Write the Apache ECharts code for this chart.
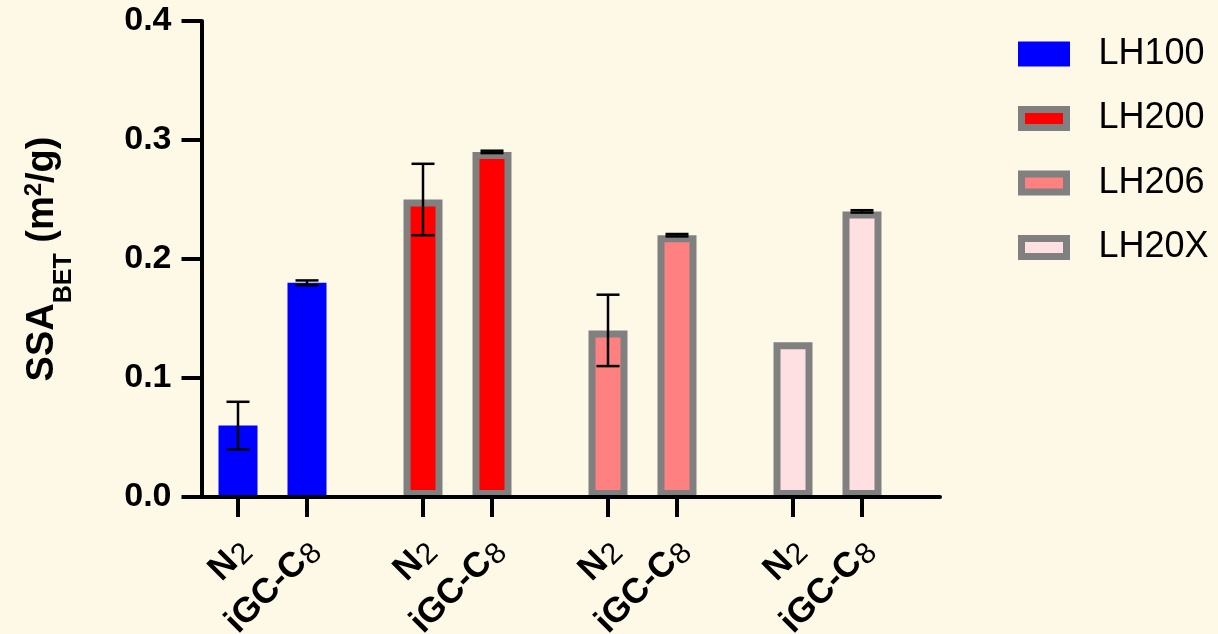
<!DOCTYPE html>
<html><head><meta charset="utf-8">
<script src="https://cdn.jsdelivr.net/npm/echarts@6/dist/echarts.min.js"></script>
<style>html,body{margin:0;padding:0;background:#FEF8E6;}#c{width:1218px;height:634px;}</style>
</head><body><div id="c"></div>
<script>
// ---- data ----
const groups = ['LH100', 'LH200', 'LH206', 'LH20X'];
const methods = ['N2', 'iGC-C8'];
const n2Values = [0.06, 0.25, 0.14, 0.13];
const n2Errors = [0.02, 0.03, 0.03, 0];
const igcValues = [0.18, 0.29, 0.22, 0.24];
const igcErrors = [0.002, 0.001, 0.001, 0.001];
const yTicks = [0.0, 0.1, 0.2, 0.3, 0.4];

// ---- styles ----
const fillColors = ['#0000FF', '#FF0000', '#FF8080', '#FFE0E2'];
const borderColors = ['#0000FF', '#808080', '#808080', '#808080'];
const FONT = 'Liberation Sans';
const BAR_W = 39, BORDER = 7, PITCH = 69;

const methodValues = [n2Values, igcValues];
const methodErrors = [n2Errors, igcErrors];

const barSeries = [];
groups.forEach((g, gi) => {
  methodValues.forEach((vals, mi) => {
    barSeries.push({
      type: 'bar', name: g, xAxisIndex: 1, yAxisIndex: 1,
      stack: 'm' + mi,
      barWidth: BAR_W,
      barGap: ((PITCH - BAR_W) / BAR_W * 100).toFixed(1) + '%',
      data: groups.map((_, k) => (k === gi ? vals[k] : '-')),
      itemStyle: { color: fillColors[gi], borderColor: borderColors[gi], borderWidth: BORDER },
      silent: true
    });
  });
});

const markerData = [];
groups.forEach((g, gi) => {
  methods.forEach((m, mi) => {
    markerData.push([gi, mi, methodValues[mi][gi], methodErrors[mi][gi]]);
  });
});

function richLabel(m) {
  const mm = m.match(/^(.*?)(\d)$/);
  return mm ? '{b|' + mm[1] + '}{s|' + mm[2] + '}' : '{b|' + m + '}';
}

function renderItem(params, api) {
  const gi = api.value(0), slot = api.value(1), v = api.value(2), e = api.value(3);
  const base = api.coord([gi, 0]);
  const cx = base[0] + (slot - 0.5) * PITCH;
  const axisY = base[1];
  const children = [];
  children.push({ type: 'line', shape: { x1: cx, y1: axisY, x2: cx, y2: axisY + 20 },
    style: { stroke: '#000', lineWidth: 4 } });
  if (e > 0) {
    const yHi = api.coord([gi, v + e])[1];
    const yLo = api.coord([gi, v - e])[1];
    children.push({ type: 'line', shape: { x1: cx, y1: yHi, x2: cx, y2: yLo },
      style: { stroke: '#000', lineWidth: 2.5 } });
    children.push({ type: 'line', shape: { x1: cx - 11.5, y1: yHi, x2: cx + 11.5, y2: yHi },
      style: { stroke: '#000', lineWidth: 2.5 } });
    children.push({ type: 'line', shape: { x1: cx - 11.5, y1: yLo, x2: cx + 11.5, y2: yLo },
      style: { stroke: '#000', lineWidth: 2.5 } });
  }
  children.push({
    type: 'text', x: cx + 7, y: axisY + 48, rotation: Math.PI / 4,
    style: {
      text: richLabel(methods[slot]), align: 'right', verticalAlign: 'middle', fill: '#000',
      rich: {
        b: { fontSize: 35, fontWeight: 'bold', fontFamily: FONT, lineHeight: 39, fill: '#000' },
        s: { fontSize: 30, fontWeight: 'normal', fontFamily: FONT, lineHeight: 30, fill: '#000', padding: [10, 0, 0, 1] }
      }
    }
  });
  return { type: 'group', children };
}

const chart = echarts.init(document.getElementById('c'), null, { renderer: 'canvas' });
chart.setOption({
  animation: false,
  backgroundColor: '#FEF8E6',
  grid: [
    { left: 192, right: 278, top: 21, bottom: 137 },
    { left: 180, width: 740, top: 21, bottom: 137 }
  ],
  xAxis: [
    { gridIndex: 0, type: 'value', min: 0, max: 1, z: 10,
      axisLine: { show: true, lineStyle: { color: '#000', width: 4 } },
      axisTick: { show: false }, axisLabel: { show: false }, splitLine: { show: false } },
    { gridIndex: 1, type: 'category', data: groups, show: false }
  ],
  yAxis: [
    { gridIndex: 0, type: 'value', min: yTicks[0], max: yTicks[yTicks.length - 1],
      interval: yTicks[1] - yTicks[0], z: 10,
      axisLine: { show: true, lineStyle: { color: '#000', width: 4 } },
      axisTick: { show: true, length: 20, lineStyle: { color: '#000', width: 4 } },
      axisLabel: { margin: 30, color: '#000', fontSize: 34, fontWeight: 'bold', fontFamily: FONT,
        formatter: v => v.toFixed(1) },
      splitLine: { show: false },
      name: '{a|SSA}{sub|BET}{a| (m}{sup|2}{a|/g)}',
      nameLocation: 'middle', nameRotate: 90, nameGap: 136,
      nameTextStyle: {
        color: '#000',
        rich: {
          a: { fontSize: 38, fontWeight: 'bold', fontFamily: FONT, lineHeight: 46, color: '#000' },
          sub: { fontSize: 25, fontWeight: 'bold', fontFamily: FONT, lineHeight: 25, color: '#000', padding: [44, 0, 0, 0] },
          sup: { fontSize: 24, fontWeight: 'bold', fontFamily: FONT, lineHeight: 24, color: '#000', padding: [0, 0, 16, 0] }
        }
      } },
    { gridIndex: 1, type: 'value', min: yTicks[0], max: yTicks[yTicks.length - 1], show: false }
  ],
  legend: {
    orient: 'vertical', left: 1013, top: 29, itemWidth: 45, itemHeight: 18, itemGap: 24.5,
    selectedMode: false,
    textStyle: { fontSize: 36, fontFamily: FONT, color: '#000', lineHeight: 40, padding: [0, 0, 0, 27] },
    data: groups.map((g, i) => ({ name: g, icon: 'rect',
      itemStyle: { color: fillColors[i], borderColor: borderColors[i], borderWidth: BORDER } }))
  },
  series: barSeries.concat([{
    type: 'custom', name: 'marks', xAxisIndex: 1, yAxisIndex: 1, clip: false, silent: true, z: 5,
    encode: { x: 0, y: 2 },
    data: markerData,
    renderItem
  }])
});
</script></body></html>
